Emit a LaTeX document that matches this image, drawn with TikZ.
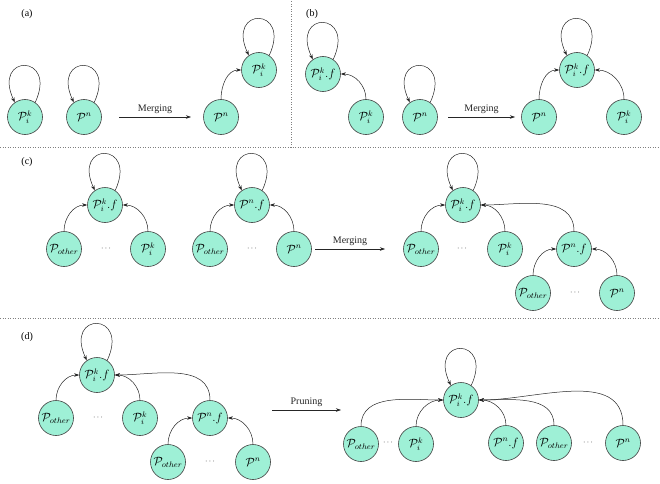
\documentclass[tikz,border=0pt]{standalone}
\usepackage{fontspec}
\setmainfont{Liberation Serif}
\usetikzlibrary{arrows.meta}
\definecolor{nodefill}{RGB}{158,240,214}
\newcommand{\cP}{\mathcal{P}}
\newcommand{\selfloop}[1]{\draw[arr] (#1.55) .. controls +(65:54pt) and +(115:54pt) .. (#1.125);}

\tikzset{
  pnode/.style={circle, draw=black!75, fill=nodefill, line width=0.6pt, minimum size=35pt, inner sep=0pt, font=\large},
  arr/.style={-{Stealth[length=5pt,width=3.5pt]}, line width=0.5pt, black!85},
  sepline/.style={dotted, black!50, line width=0.5pt},
  dotsnode/.style={font=\footnotesize}
}

\begin{document}
\begin{tikzpicture}[x=1pt,y=1pt]
\useasboundingbox (0,0) rectangle (660,483);

% separators
\draw[sepline] (0,336) -- (660,336);
\draw[sepline] (0,165) -- (660,165);
\draw[sepline] (291,336) -- (291,483);

% (a)
\node (la) at (27,469) {(a)};
\node[pnode] (a1) at (25,366) {$\cP^k_i$};
\node[pnode] (a2) at (84,366) {$\cP^n$};
\node[pnode] (a3) at (221,366) {$\cP^n$};
\node[pnode] (a4) at (259,413) {$\cP^k_i$};
\coordinate (ma1) at (119,366);
\coordinate (ma2) at (191,366);
\draw[arr] (ma1) -- node[above] {Merging} (ma2);
\selfloop{a1}
\selfloop{a2}
\selfloop{a4}
\draw[arr] (a3) to[out=90,in=180] (a4);

% (b)
\node (lb) at (312,469) {(b)};
\node[pnode] (b1) at (323,409) {$\cP^k_i.f$};
\node[pnode] (b2) at (366,366) {$\cP^k_i$};
\node[pnode] (b3) at (420,366) {$\cP^n$};
\node[pnode] (b4) at (539,366) {$\cP^n$};
\node[pnode] (b5) at (577,413) {$\cP^k_i.f$};
\node[pnode] (b6) at (624,366) {$\cP^k_i$};
\coordinate (mb1) at (448,366);
\coordinate (mb2) at (515,366);
\draw[arr] (mb1) -- node[above] {Merging} (mb2);
\selfloop{b1}
\selfloop{b3}
\selfloop{b5}
\draw[arr] (b2) to[out=90,in=0] (b1);
\draw[arr] (b4) to[out=90,in=180] (b5);
\draw[arr] (b6) to[out=90,in=0] (b5);

% (c)
\node (lc) at (27,321) {(c)};
\node[pnode] (c1) at (105,278) {$\cP^k_i.f$};
\node[pnode] (c2) at (64,234) {$\cP_{other}$};
\node[dotsnode] (cd1) at (106,234) {$\cdots$};
\node[pnode] (c3) at (148,234) {$\cP^k_i$};
\node[pnode] (c4) at (252,278) {$\cP^n.f$};
\node[pnode] (c5) at (210,234) {$\cP_{other}$};
\node[dotsnode] (cd2) at (252,234) {$\cdots$};
\node[pnode] (c6) at (294,234) {$\cP^n$};
\node[pnode] (c7) at (463,278) {$\cP^k_i.f$};
\node[pnode] (c8) at (421,234) {$\cP_{other}$};
\node[dotsnode] (cd3) at (462,234) {$\cdots$};
\node[pnode] (c9) at (505,234) {$\cP^k_i$};
\node[pnode] (c10) at (574,234) {$\cP^n.f$};
\node[pnode] (c11) at (533,190) {$\cP_{other}$};
\node[dotsnode] (cd4) at (575,190) {$\cdots$};
\node[pnode] (c12) at (617,190) {$\cP^n$};
\coordinate (mc1) at (315,234);
\coordinate (mc2) at (385,234);
\draw[arr] (mc1) -- node[above] {Merging} (mc2);
\selfloop{c1}
\selfloop{c4}
\selfloop{c7}
\draw[arr] (c2) to[out=90,in=180] (c1);
\draw[arr] (c3) to[out=90,in=0] (c1);
\draw[arr] (c5) to[out=90,in=180] (c4);
\draw[arr] (c6) to[out=90,in=0] (c4);
\draw[arr] (c8) to[out=90,in=180] (c7);
\draw[arr] (c9) to[out=90,in=0] (c7);
\draw[arr] (c10) to[out=90,in=0] (c7);
\draw[arr] (c11) to[out=90,in=180] (c10);
\draw[arr] (c12) to[out=90,in=0] (c10);

% (d)
\node (ld) at (27,146) {(d)};
\node[pnode] (d1) at (97,108) {$\cP^k_i.f$};
\node[pnode] (d2) at (56,65) {$\cP_{other}$};
\node[dotsnode] (dd1) at (98,65) {$\cdots$};
\node[pnode] (d3) at (140,65) {$\cP^k_i$};
\node[pnode] (d4) at (210,65) {$\cP^n.f$};
\node[pnode] (d5) at (168,21) {$\cP_{other}$};
\node[dotsnode] (dd2) at (210,21) {$\cdots$};
\node[pnode] (d6) at (253,21) {$\cP^n$};
\selfloop{d1}
\draw[arr] (d2) to[out=90,in=180] (d1);
\draw[arr] (d3) to[out=90,in=0] (d1);
\draw[arr] (d4) to[out=90,in=0] (d1);
\draw[arr] (d5) to[out=90,in=180] (d4);
\draw[arr] (d6) to[out=90,in=0] (d4);
\coordinate (pr1) at (272,73);
\coordinate (pr2) at (341,73);
\draw[arr] (pr1) -- node[above] {Pruning} (pr2);

% pruned
\node[pnode] (e1) at (461,83) {$\cP^k_i.f$};
\node[pnode] (e2) at (361,39) {$\cP_{other}$};
\node[dotsnode] (ed1) at (388,40) {$\cdots$};
\node[pnode] (e3) at (416,39) {$\cP^k_i$};
\node[pnode] (e4) at (506,40) {$\cP^n.f$};
\node[pnode] (e5) at (554,40) {$\cP_{other}$};
\node[dotsnode] (ed2) at (588,40) {$\cdots$};
\node[pnode] (e6) at (623,40) {$\cP^n$};
\selfloop{e1}
\draw[arr] (e2) to[out=90,in=180] (e1);
\draw[arr] (e3) to[out=90,in=180] (e1);
\draw[arr] (e4) to[out=90,in=0] (e1);
\draw[arr] (e5) to[out=90,in=0] (e1);
\draw[arr] (e6) to[out=90,in=0] (e1);

\end{tikzpicture}
\end{document}
